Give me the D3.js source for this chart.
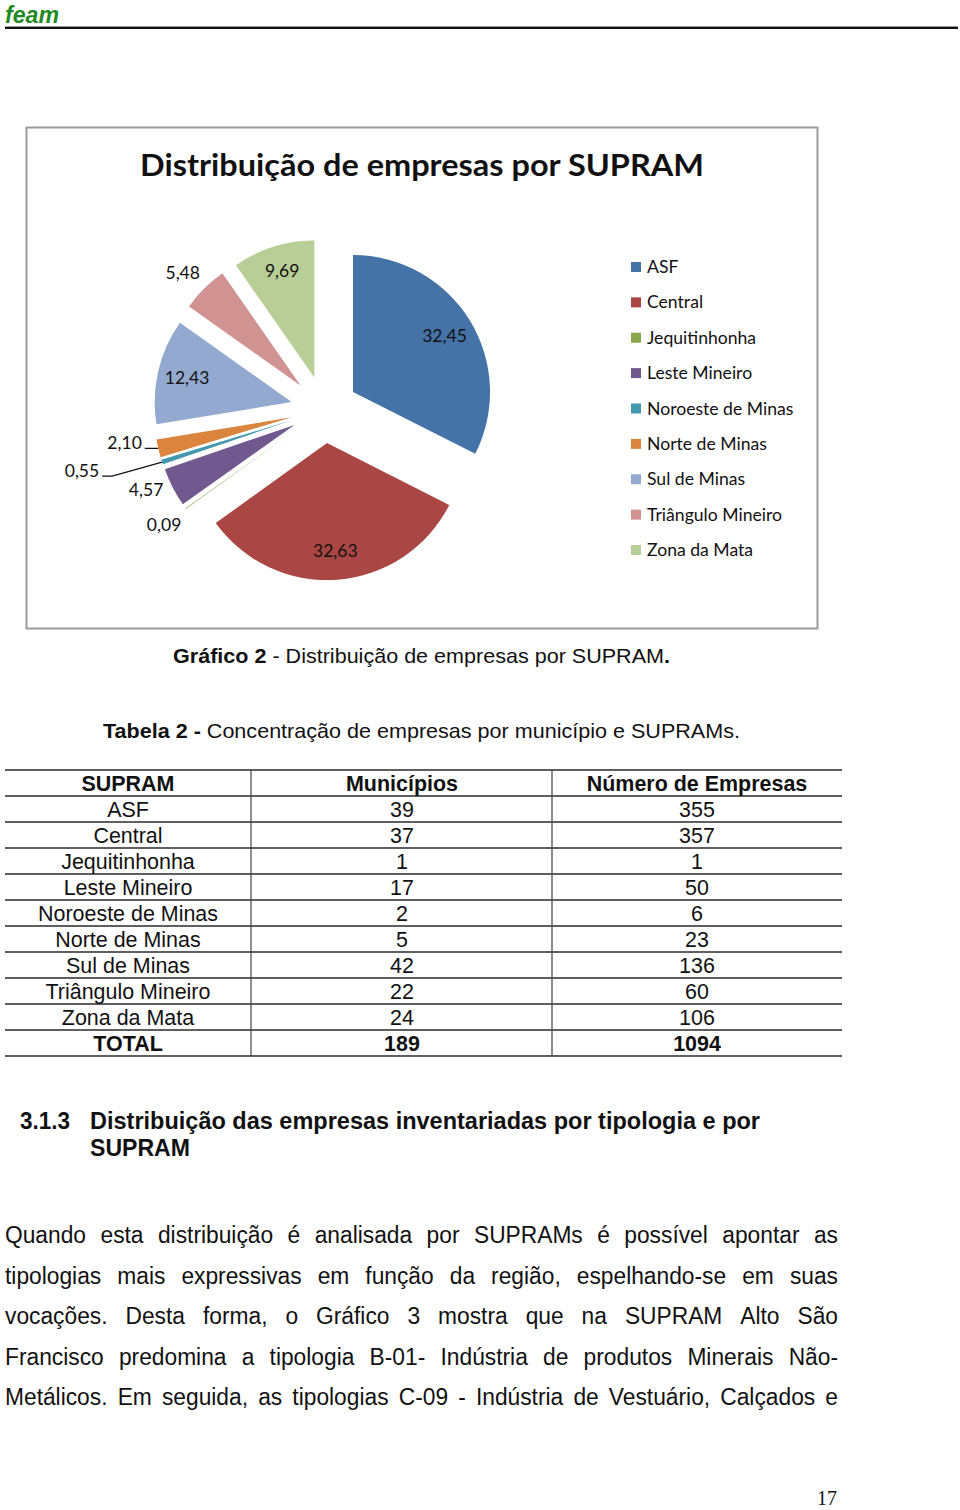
<!DOCTYPE html>
<html><head><meta charset="utf-8">
<script src="https://cdn.jsdelivr.net/npm/d3@7"></script>
<style>body{margin:0;background:#fff} svg{display:block}</style>
</head><body>
<svg id="page" width="960" height="1510"></svg>
<script>
// ---------- DATA ----------
const supram = ["ASF","Central","Jequitinhonha","Leste Mineiro","Noroeste de Minas","Norte de Minas","Sul de Minas","Triângulo Mineiro","Zona da Mata"];
const percent = [32.45,32.63,0.09,4.57,0.55,2.10,12.43,5.48,9.69];
const percentLabels = ["32,45","32,63","0,09","4,57","0,55","2,10","12,43","5,48","9,69"];
const municipios = [39,37,1,17,2,5,42,22,24];
const empresas = [355,357,1,50,6,23,136,60,106];
const totalMunicipios = 189;
const totalEmpresas = 1094;
const tableHeader = ["SUPRAM","Municípios","Número de Empresas"];
const chartTitle = "Distribuição de empresas por SUPRAM";
const paragraphLines = [
  "Quando esta distribuição é analisada por SUPRAMs é possível apontar as",
  "tipologias mais expressivas em função da região, espelhando-se em suas",
  "vocações. Desta forma, o Gráfico 3 mostra que na SUPRAM Alto São",
  "Francisco predomina a tipologia B-01- Indústria de produtos Minerais Não-",
  "Metálicos. Em seguida, as tipologias C-09 - Indústria de Vestuário, Calçados e"
];

// ---------- STYLE / LAYOUT ----------
const colors = ["#4572A7","#AA4643","#89A54E","#71588F","#4198AF","#DB843D","#93A9CF","#D19392","#B9CD96"];
// label nudges for crowded outside labels (layout only)
const labelNudge = {"Leste Mineiro":[-3,-10],"Noroeste de Minas":[-55,0],"Norte de Minas":[-8,-12],"Zona da Mata":[0,-5],"Triângulo Mineiro":[-3,3]};
const leaderFor = ["Noroeste de Minas","Norte de Minas"];

const svg = d3.select("#page");
const ARIAL = "'Liberation Sans', Arial, sans-serif";
const CAL = "Lato, 'Open Sans', sans-serif";

function fit(sel, w){ return sel.attr("textLength", w).attr("lengthAdjust","spacingAndGlyphs"); }

// ---------- HEADER ----------
fit(svg.append("text").attr("x",5).attr("y",23).attr("font-family",ARIAL)
  .attr("font-size",23).attr("font-weight","bold").attr("font-style","italic")
  .attr("fill","#1f8a22").text("feam"), 54);
svg.append("line").attr("x1",5).attr("x2",958).attr("y1",26.5).attr("y2",26.5).attr("stroke","#999").attr("stroke-width",1);
svg.append("line").attr("x1",5).attr("x2",958).attr("y1",28).attr("y2",28).attr("stroke","#111").attr("stroke-width",2);

// ---------- CHART FRAME ----------
svg.append("rect").attr("x",26.5).attr("y",127.5).attr("width",791).attr("height",501)
  .attr("fill","#fff").attr("stroke","#9b9b9b").attr("stroke-width",2);
fit(svg.append("text").attr("x",140).attr("y",176).attr("font-family",CAL)
  .attr("font-size",31).attr("font-weight","bold").attr("fill","#111").text(chartTitle), 564);

// ---------- PIE ----------
const cx = 324.4, cy = 409.6, R = 137, explode = 33.6;
const pie = d3.pie().sort(null).value(d => d.v).startAngle(0).endAngle(2*Math.PI);
const arc = d3.arc().innerRadius(0).outerRadius(R);
const data = supram.map((s,i)=>({name:s, v:percent[i], label:percentLabels[i], color:colors[i]}));
const arcs = pie(data);
const g = svg.append("g").attr("transform",`translate(${cx},${cy})`);
const dir = a => [Math.sin(a), -Math.cos(a)];
g.selectAll("path.slice").data(arcs).join("path").attr("class","slice")
  .attr("d", arc)
  .attr("fill", d=>d.data.color)
  .attr("transform", d=>{ const m=(d.startAngle+d.endAngle)/2, [x,y]=dir(m); return `translate(${x*explode},${y*explode})`; });

// labels
arcs.forEach(d=>{
  const m=(d.startAngle+d.endAngle)/2, [ux,uy]=dir(m);
  const inside = d.data.v >= 9;
  const r = inside ? 141 : 197;
  let x = ux*r, y = uy*r;
  const n = labelNudge[d.data.name];
  if(n){ x+=n[0]; y+=n[1]; }
  const t = g.append("text").attr("x",x).attr("y",y).attr("text-anchor","middle")
    .attr("dominant-baseline","central").attr("font-family",CAL).attr("font-size",17.5)
    .attr("fill","#111").text(d.data.label);
  if(leaderFor.includes(d.data.name)){
    const w = t.node().getComputedTextLength();
    const sx = x + w/2 + 3, sy = y + 6;
    const ex = ux*(R+explode), ey = uy*(R+explode);
    g.append("polyline").attr("points",`${sx},${sy} ${sx+10},${sy} ${ex},${ey}`)
      .attr("fill","none").attr("stroke","#111").attr("stroke-width",1.3);
  }
});

// legend
const legY = d3.scalePoint().domain(supram).range([267,550]);
const leg = svg.append("g");
supram.forEach((s,i)=>{
  leg.append("rect").attr("x",631).attr("y",legY(s)-5).attr("width",10).attr("height",10).attr("fill",colors[i]);
  leg.append("text").attr("x",647).attr("y",legY(s)+6).attr("font-family",CAL).attr("font-size",17.6)
    .attr("fill","#111").text(s);
});

// ---------- CAPTIONS ----------
const cap = svg.append("text").attr("x",173).attr("y",663).attr("font-family",ARIAL).attr("font-size",21).attr("fill","#111");
cap.append("tspan").attr("font-weight","bold").text("Gráfico 2");
cap.append("tspan").text(" - Distribuição de empresas por SUPRAM");
cap.append("tspan").attr("font-weight","bold").text(".");
fit(cap,497);
const tab = svg.append("text").attr("x",103).attr("y",738).attr("font-family",ARIAL).attr("font-size",21).attr("fill","#111");
tab.append("tspan").attr("font-weight","bold").text("Tabela 2 -");
tab.append("tspan").text(" Concentração de empresas por município e SUPRAMs.");
fit(tab,637);

// ---------- TABLE ----------
const colX = [128,402,697];
const rows = supram.map((s,i)=>[s, municipios[i], empresas[i]]);
const allRows = [tableHeader, ...rows, ["TOTAL", totalMunicipios, totalEmpresas]];
const rowY2 = i => i===0 ? 770 : 796 + (i-1)*26;
const tbl = svg.append("g");
for(let i=0;i<=allRows.length;i++){
  tbl.append("line").attr("x1",5).attr("x2",842).attr("y1",rowY2(i)).attr("y2",rowY2(i))
    .attr("stroke","#2a2a2a").attr("stroke-width",1.6);
}
[251,552].forEach(x=> tbl.append("line").attr("x1",x).attr("x2",x).attr("y1",770).attr("y2",rowY2(allRows.length)).attr("stroke","#444").attr("stroke-width",1.2));
const probe = svg.append("text").attr("font-family",ARIAL).attr("font-size",22).text("Noroeste de Minas");
const kTab = 180/probe.node().getComputedTextLength();
probe.remove();
allRows.forEach((r,i)=>{
  const bold = (i===0 || i===allRows.length-1);
  const yc = (rowY2(i)+rowY2(i+1))/2;
  r.forEach((v,j)=>{
    const t = tbl.append("text").attr("x",colX[j]).attr("y",yc+8).attr("text-anchor","middle")
      .attr("font-family",ARIAL).attr("font-size",22).attr("fill","#111")
      .attr("font-weight",bold?"bold":"normal").text(String(v));
    fit(t, t.node().getComputedTextLength()*kTab);
  });
});

// ---------- HEADING ----------
fit(svg.append("text").attr("x",20).attr("y",1129).attr("font-family",ARIAL).attr("font-size",23).attr("font-weight","bold").attr("fill","#111").text("3.1.3"),50);
fit(svg.append("text").attr("x",90).attr("y",1129).attr("font-family",ARIAL).attr("font-size",23).attr("font-weight","bold").attr("fill","#111").text("Distribuição das empresas inventariadas por tipologia e por"),670);
fit(svg.append("text").attr("x",90).attr("y",1156).attr("font-family",ARIAL).attr("font-size",23).attr("font-weight","bold").attr("fill","#111").text("SUPRAM"),100);

// ---------- PARAGRAPH (justified) ----------
const pX0 = 5, pX1 = 838, pSize = 23;
const pY = d3.scaleLinear().domain([0,4]).range([1243,1405]);
const probe2 = svg.append("text").attr("font-family",ARIAL).attr("font-size",pSize);
const kPar = 0.99;
paragraphLines.forEach((line,li)=>{
  const words = line.split(" ");
  const ws = words.map(w=>{ probe2.text(w); return probe2.node().getComputedTextLength()*kPar; });
  const sum = d3.sum(ws);
  const gap = (pX1-pX0-sum)/(words.length-1);
  let x = pX0;
  words.forEach((w,wi)=>{
    fit(svg.append("text").attr("x",x).attr("y",pY(li)).attr("font-family",ARIAL).attr("font-size",pSize)
      .attr("fill","#111").text(w), ws[wi]);
    x += ws[wi] + gap;
  });
});
probe2.remove();

// ---------- PAGE NUMBER ----------
svg.append("text").attr("x",827).attr("y",1505).attr("text-anchor","middle")
  .attr("font-family","'Liberation Serif','DejaVu Serif',serif").attr("font-size",20).attr("fill","#111").text("17");
</script></body></html>
